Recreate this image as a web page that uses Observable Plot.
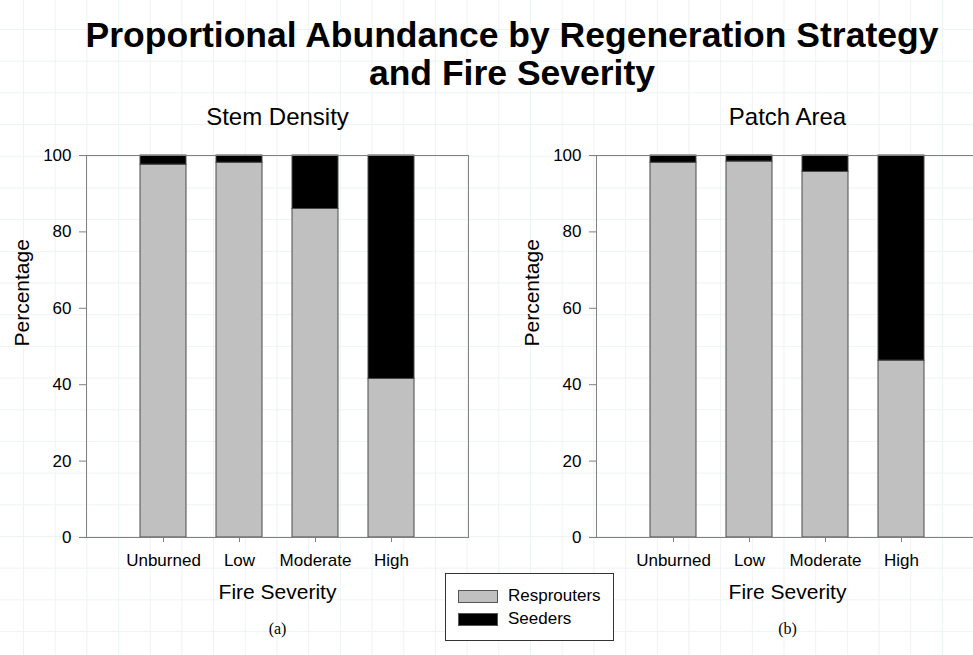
<!DOCTYPE html>
<html>
<head>
<meta charset="utf-8">
<script src="https://cdn.jsdelivr.net/npm/d3@7"></script>
<script src="https://cdn.jsdelivr.net/npm/@observablehq/plot@0.6"></script>
<style>
  html, body { margin: 0; padding: 0; }
  body {
    width: 973px; height: 655px; overflow: hidden; position: relative;
    background-color: #fff;
    background-image:
      linear-gradient(to right, #eef3f3 1px, transparent 1px),
      linear-gradient(to bottom, #eef3f3 1px, transparent 1px);
    background-size: 31.7px 31.7px;
    background-position: 23px 29px;
    font-family: "Liberation Sans", Arial, sans-serif;
  }
  #title {
    position: absolute; left: 12px; top: 16px; width: 1000px;
    text-align: center; font-weight: bold; font-size: 35.5px; line-height: 38px; color: #000;
  }
  .panel { position: absolute; top: 95px; width: 480px; }
  .panel svg { max-width: none !important; }
  #legend {
    position: absolute; left: 445px; top: 573px; width: 167px; height: 66px;
    border: 1px solid #333; background: #fff; font-size: 17px;
  }
  .row { position: absolute; left: 12px; display: flex; align-items: center; }
  .sw { width: 40px; height: 13px; border: 1px solid #555; box-sizing: border-box; margin-right: 10px; }
</style>
</head>
<body>
<div id="title">Proportional Abundance by Regeneration Strategy<br>and Fire Severity</div>
<div id="left" class="panel" style="left:0px"></div>
<div id="right" class="panel" style="left:510px"></div>
<div id="legend">
  <div class="row" style="top:12px"><div class="sw" style="background:#c0c0c0"></div><span>Resprouters</span></div>
  <div class="row" style="top:35px"><div class="sw" style="background:#000"></div><span>Seeders</span></div>
</div>
<script>
const severity = ["Unburned", "Low", "Moderate", "High"];
const strategies = ["Resprouters", "Seeders"];
const stemResprouters = [97.6, 98.1, 86.0, 41.5];
const stemSeeders = [2.4, 1.9, 14.0, 58.5];
const patchResprouters = [98.1, 98.4, 95.7, 46.3];
const patchSeeders = [1.9, 1.6, 4.3, 53.7];
const yTicks = [0, 20, 40, 60, 80, 100];
const panelTitles = ["Stem Density", "Patch Area"];
const panelTags = ["(a)", "(b)"];

function rowsFor(res, seed) {
  const rows = [];
  severity.forEach((s, i) => {
    rows.push({severity: s, strategy: "Resprouters", value: res[i]});
    rows.push({severity: s, strategy: "Seeders", value: seed[i]});
  });
  return rows;
}

function panel(rows, title, tag) {
  return Plot.plot({
    width: 480,
    height: 60 + 382 + 100,
    marginLeft: 86,
    marginRight: 12,
    marginTop: 60,
    marginBottom: 100,
    style: {background: "transparent", fontFamily: "'Liberation Sans', Arial, sans-serif", color: "#000", overflow: "visible", maxWidth: "none"},
    x: {type: "band", domain: severity, paddingInner: 0.4, paddingOuter: 0.69},
    y: {domain: [0, 100]},
    color: {domain: strategies, range: ["#c0c0c0", "#000000"]},
    marks: [
      Plot.barY(rows, {x: "severity", y: "value", fill: "strategy", stroke: "#4a4a4a", strokeWidth: 1}),
      Plot.frame({stroke: "#808080"}),
      Plot.axisY({ticks: yTicks, tickSize: 7, tickPadding: 8, fontSize: 17, label: null, stroke: "#808080"}),
      Plot.axisX({tickSize: 5, tickPadding: 11, fontSize: 17, label: null, stroke: "#808080"}),
      Plot.text([title], {text: d => d, frameAnchor: "top", lineAnchor: "middle", dy: -38, fontSize: 24}),
      Plot.text(["Percentage"], {text: d => d, frameAnchor: "left", lineAnchor: "middle", dx: -64, rotate: -90, fontSize: 21}),
      Plot.text(["Fire Severity"], {text: d => d, frameAnchor: "bottom", lineAnchor: "middle", dy: 55, fontSize: 21}),
      Plot.text([tag], {text: d => d, frameAnchor: "bottom", lineAnchor: "middle", dy: 91, fontSize: 16, fontFamily: "'Liberation Serif', 'DejaVu Serif', serif"})
    ]
  });
}

document.getElementById("left").append(panel(rowsFor(stemResprouters, stemSeeders), panelTitles[0], panelTags[0]));
document.getElementById("right").append(panel(rowsFor(patchResprouters, patchSeeders), panelTitles[1], panelTags[1]));
</script>
</body>
</html>
